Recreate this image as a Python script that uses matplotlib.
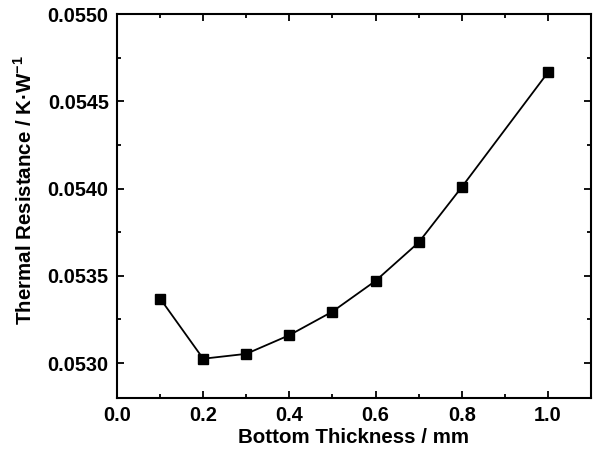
import matplotlib
matplotlib.use('Agg')
import matplotlib.pyplot as plt
from matplotlib.ticker import MultipleLocator

thickness = [0.1, 0.2, 0.3, 0.4, 0.5, 0.6, 0.7, 0.8, 1.0]
resistance = [0.05337, 0.053025, 0.053053, 0.05316, 0.053295, 0.053471, 0.053691, 0.054008, 0.054665]

plt.rcParams['font.family'] = 'Liberation Sans'
plt.rcParams['font.weight'] = 'bold'
plt.rcParams['mathtext.fontset'] = 'custom'
plt.rcParams['mathtext.rm'] = 'Liberation Sans:bold'
plt.rcParams['mathtext.bf'] = 'Liberation Sans:bold'

fig = plt.figure(figsize=(5.93, 4.53), dpi=100)
ax = fig.add_axes([117 / 593, 1 - 398 / 453, (591 - 117) / 593, (398 - 14) / 453])

ax.plot(thickness, resistance, color='black', lw=1.3, marker='s', ms=7.5)

ax.set_xlim(0.0, 1.1)
ax.set_ylim(0.0528, 0.0550)
ax.xaxis.set_major_locator(MultipleLocator(0.2))
ax.xaxis.set_minor_locator(MultipleLocator(0.1))
ax.yaxis.set_major_locator(MultipleLocator(0.0005))
ax.yaxis.set_minor_locator(MultipleLocator(0.00025))
ax.xaxis.set_major_formatter(plt.FuncFormatter(lambda v, p: f'{v:.1f}'))
ax.yaxis.set_major_formatter(plt.FuncFormatter(lambda v, p: f'{v:.4f}'))

ax.tick_params(which='both', direction='in', top=True, right=True, width=1.3, labelsize=14.3)
ax.tick_params(which='major', length=5, pad=6)
ax.tick_params(which='minor', length=3)
for s in ax.spines.values():
    s.set_linewidth(1.5)

ax.set_xlabel('Bottom Thickness / mm', fontsize=14.8, fontweight='bold', labelpad=2)
ax.set_ylabel('Thermal Resistance / K\u00b7W$^{-1}$', fontsize=14.8, fontweight='bold')
ax.yaxis.set_label_coords(-0.172, 0.542)

fig.savefig('out.png', dpi=100)
